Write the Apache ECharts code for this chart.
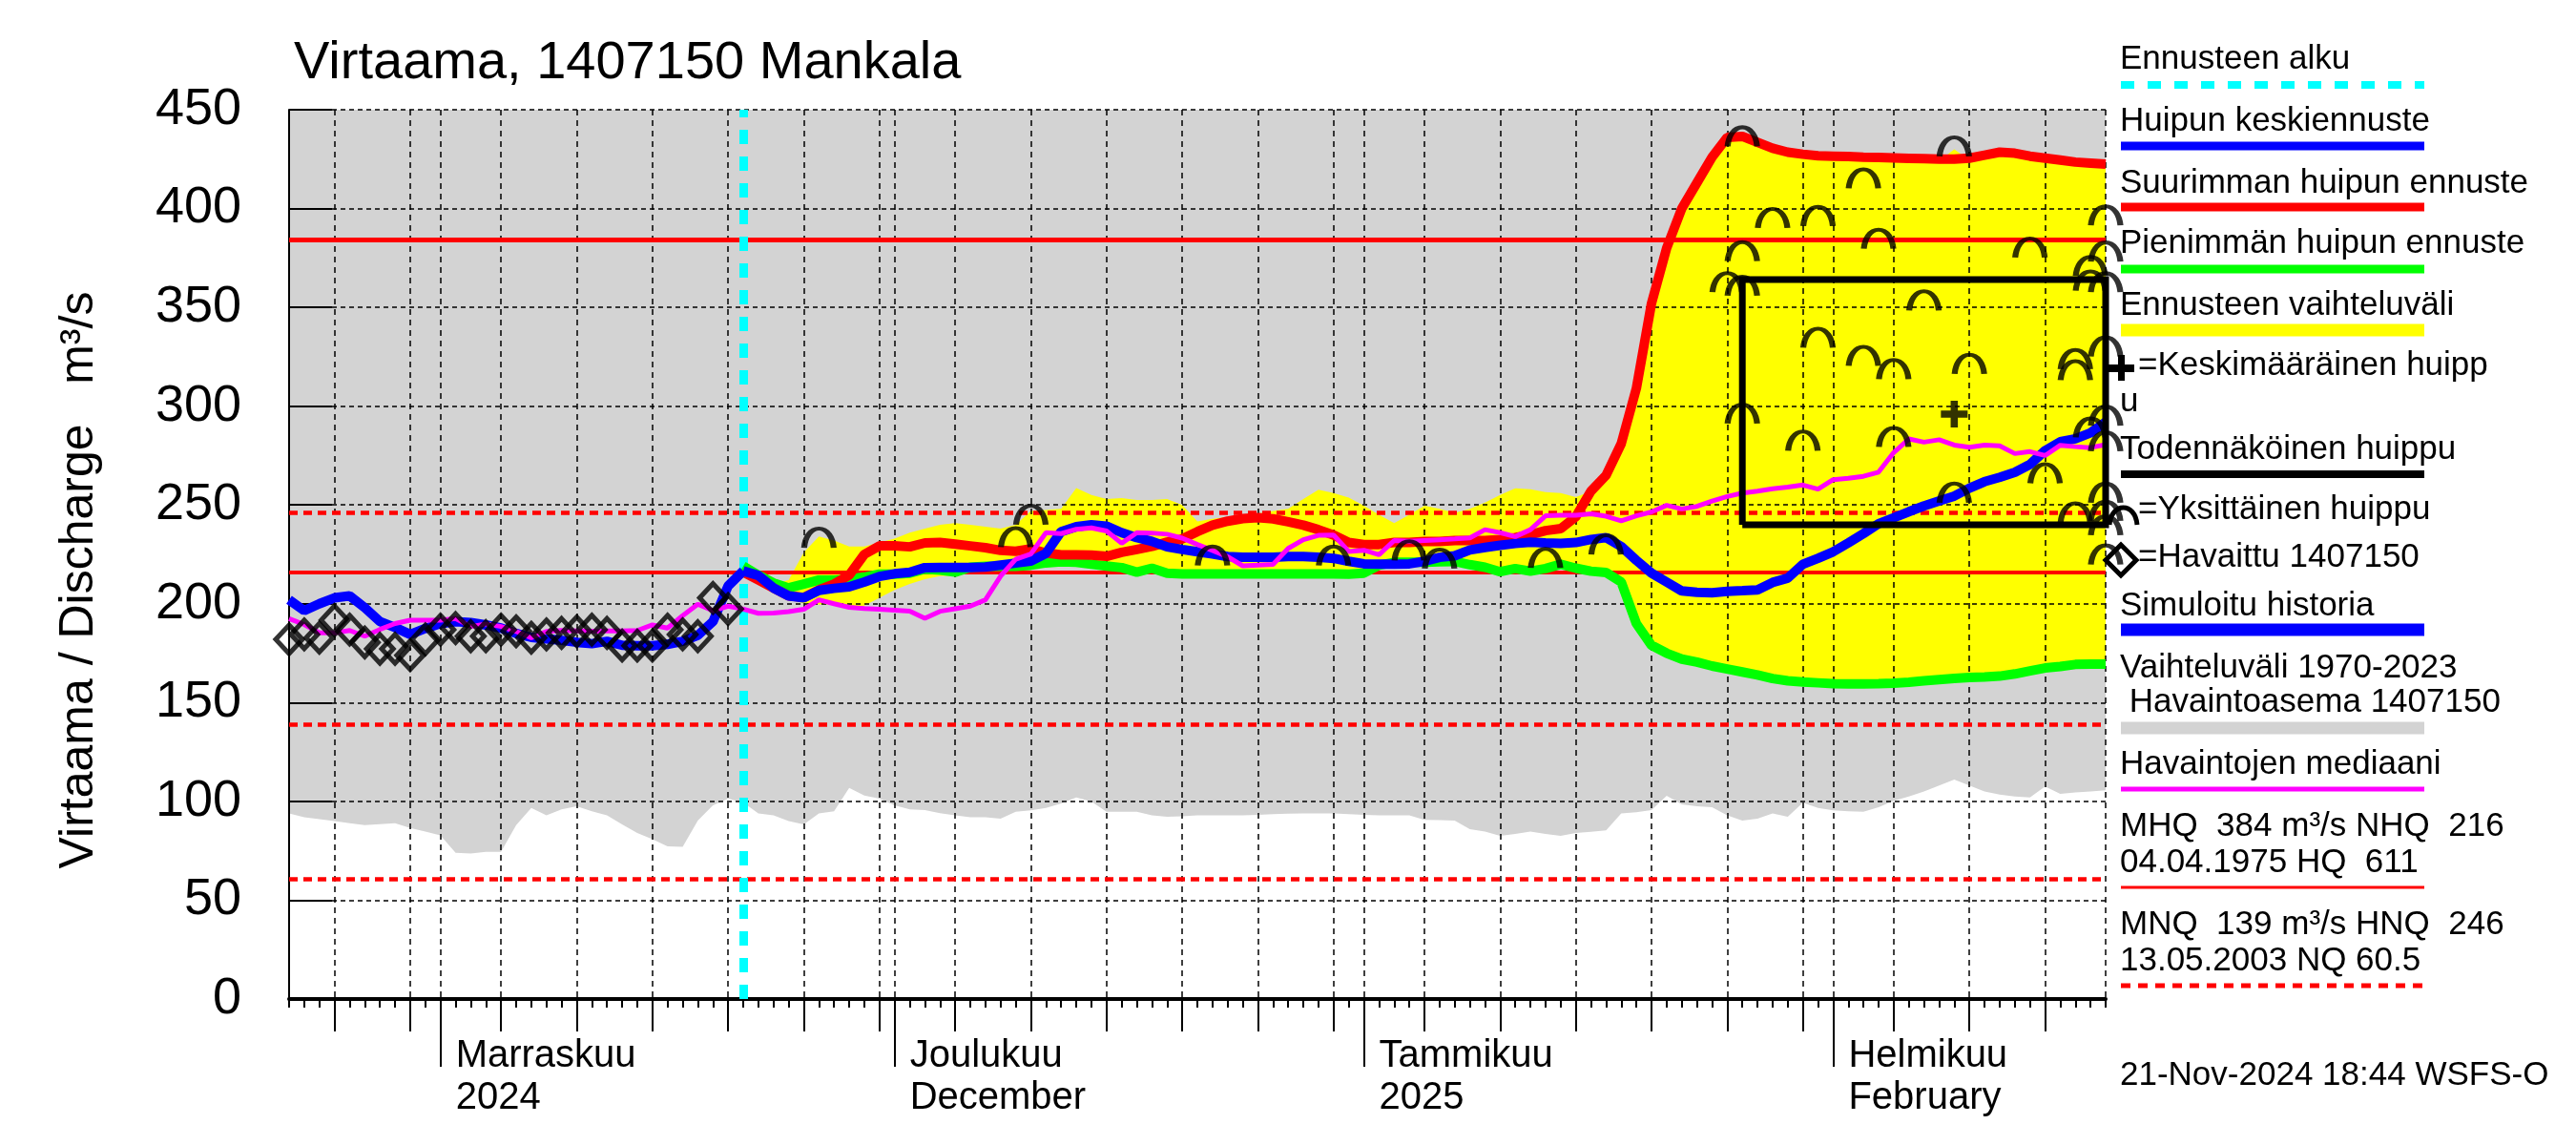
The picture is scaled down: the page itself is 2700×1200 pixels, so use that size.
<!DOCTYPE html>
<html><head><meta charset="utf-8">
<script src="https://cdn.jsdelivr.net/npm/echarts@6/dist/echarts.min.js"></script>
<style>html,body{margin:0;padding:0;background:#fff}#c{width:2700px;height:1200px}</style>
</head><body><div id="c"></div>
<script>
// ---------- data ----------
const START = '2024-10-22';
const N_DAYS = 121;                 // 22 Oct 2024 .. 19 Feb 2025
const FORECAST_START = '2024-11-21';

// reference values
const MHQ = 384, NHQ = 216, HNQ = 246, MNQ = 139, NQ = 60.5;

// observed discharge (from START)
const observed = [182, 184.5, 182.8, 191.7, 186.9, 180.4, 177.2, 177.2, 174, 182,
  186.9, 187.7, 183.6, 183.6, 186.9, 186.1, 182.8, 184.5, 185.3, 186.1,
  186.9, 185.3, 178.8, 178.8, 178.8, 186.9, 184.5, 183.6, 203, 197.3];

// simulated history (from START to FORECAST_START)
const simulated = [202, 196.5, 200, 203, 204, 198, 191, 188, 184.5, 187.5,
  190, 191, 190.5, 189.3, 187.7, 185, 183, 182.2, 181.5, 180.5,
  179.8, 181, 179, 178.8, 178.8, 179.5, 181, 184, 191, 209, 216.6];

// forecasts (from FORECAST_START)
const meanForecast = [216.6, 214.3, 208, 204, 203, 206.8, 207.8, 208.6, 211, 213.8,
  215.2, 215.9, 218.3, 218.4, 218.4, 218.4, 218.6, 219.6, 220.6, 221.6,
  225.5, 236.5, 239, 240, 239.3, 236, 233.5, 231.6, 228.8, 227.5,
  226.3, 225.2, 223.9, 223.6, 223.6, 223.6, 223.9, 223.9, 223.5, 223,
  221.5, 220.2, 220.1, 220.1, 220.2, 221.5, 223.5, 224.3, 227.2, 228.5,
  229.6, 230.5, 231.2, 230.8, 230.5, 231, 232.5, 233.5, 229, 222,
  215.5, 211, 206.5, 205.8, 205.6, 206.3, 206.6, 207, 210.8, 213,
  220, 223, 226.3, 230.8, 235.5, 240.5, 243.5, 246.6, 249.5, 252,
  254.5, 258.5, 261.8, 264, 266.5, 270.5, 277.5, 282, 283.5, 286.5, 292];

const maxForecast = [216, 212, 208, 204, 203.2, 207, 210, 214.5, 225, 229.3,
  229.3, 228.8, 230.8, 231, 230.2, 229.3, 228.4, 227, 226.6, 227.8,
  225.7, 224.8, 224.7, 224.6, 224, 226, 227.5, 229, 231.2, 232.8,
  236.5, 239.8, 241.8, 243.1, 243.6, 243, 241.5, 239.8, 237.5, 234.8,
  231, 230, 230, 231, 231, 231.5, 231.5, 232, 232, 232,
  232.5, 233.5, 235, 237, 238, 244, 257, 265, 281, 309,
  352, 380, 400, 413, 426, 436, 436.5, 433.5, 430.5, 428.5,
  427.5, 426.7, 426.5, 426.3, 426, 425.8, 425.6, 425.4, 425.2, 425,
  425, 425.5, 427, 428.5, 428, 426.5, 425.5, 424.5, 423.5, 423, 422.5];

const minForecast = [219, 214.5, 210.5, 208, 210, 212, 212, 212.5, 213.5, 215,
  215, 215.5, 217.5, 217, 216, 218.5, 219, 219, 219, 219.5,
  220.7, 221.2, 221, 220, 219.1, 218.3, 216, 218, 215.5, 215.1,
  215.1, 215.1, 215.1, 215.1, 215.1, 215.1, 215.1, 215.1, 215.1, 215.1,
  215, 215.5, 219.5, 221, 221, 221, 221.3, 221.4, 219.8, 218.5,
  216.2, 217.8, 216.5, 217.8, 220, 218, 216.5, 215.8, 211, 190,
  179, 175, 172, 170.5, 168.5, 167, 165.5, 164, 162.2, 161,
  160.4, 160, 159.6, 159.5, 159.5, 159.6, 159.8, 160.3, 161, 161.6,
  162.2, 162.7, 163, 163.4, 164.5, 166, 167.5, 168.3, 169.3, 169.5, 169.5];

// forecast range (from FORECAST_START)
const rangeLow = [219, 212, 207, 203, 200, 199.7, 199.7, 198.5, 199, 203,
  207, 210, 212.5, 214, 214.3, 218.5, 219, 219, 219, 219.5,
  220.7, 221.2, 221, 220, 219.1, 218.3, 216, 218, 215.5, 215.1,
  215.1, 215.1, 215.1, 215.1, 215.1, 215.1, 215.1, 215.1, 215.1, 215.1,
  215, 215.5, 219.5, 221, 221, 221, 221.3, 221.4, 219.8, 218.5,
  216.2, 217.8, 216.5, 217.8, 220, 218, 216.5, 215.8, 211, 190,
  179, 175, 172, 170.5, 168.5, 167, 165.5, 164, 162.2, 161,
  160.4, 160, 159.6, 159.5, 159.5, 159.6, 159.8, 160.3, 161, 161.6,
  162.2, 162.7, 163, 163.4, 164.5, 166, 167.5, 168.3, 169.3, 169.5, 169.5];

const rangeHigh = [221, 215, 210, 212, 226, 234, 232, 229, 229, 231,
  233, 236, 238, 240, 240.8, 240, 239, 238, 240, 247,
  247.5, 248, 258.5, 255, 253, 253.5, 252.5, 252.5, 253, 250,
  241.6, 243, 244, 245, 245.6, 247, 248, 253, 257.7, 256,
  253.7, 249.6, 245, 240.8, 245, 249.6, 248, 246, 248, 251.2,
  255, 258.4, 258, 256.5, 256, 254, 257, 265, 281, 309,
  352, 380, 400, 413, 426, 435, 435, 432, 429, 427,
  426, 425.5, 425, 425, 424.8, 424.6, 424.4, 424.2, 424, 424,
  430, 424.5, 426, 427.5, 427, 425.5, 424.5, 423.5, 422.5, 422, 421.5];

// observed median (from START)
const median = [192.5, 189.5, 185.3, 185.3, 186.5, 183.6, 187, 190, 191.7, 191.7,
  191.7, 192.5, 188.5, 189.8, 188.5, 186, 182.8, 186, 186.5, 186.3,
  186.1, 186.2, 186.3, 186.5, 189.3, 187.7, 194, 199.8, 196.5, 198.8,
  197.3, 195.2, 195.3, 196, 197.2, 202, 200, 198.2, 197.6, 197.2,
  196.8, 196.3, 192.6, 196.2, 197.5, 198.8, 202, 214, 222.5, 225.2,
  236, 235.5, 237.7, 238.4, 236.8, 230.6, 236, 235.8, 235.2, 233.2,
  230, 227, 223.8, 219.2, 219.6, 219.9, 228, 232.4, 234.6, 234.8,
  226.5, 227.1, 224.8, 232, 231.6, 232, 232.4, 232.8, 233.3, 237.5,
  236, 234, 237.5, 244.5, 244.8, 244.8, 245.5, 244.3, 242, 244.5,
  246.5, 249.8, 248, 249.3, 252, 254.3, 256, 257, 258.2, 259,
  260.1, 258, 262.8, 263.5, 264.5, 266.6, 276.5, 283.4, 281.8, 283,
  280.3, 279.2, 280.3, 279.9, 276, 277, 275, 280.2, 279.5, 279, 280.5];

// lower edge of the 1970-2023 range (from START); the upper edge is above the chart
const histLow = [93.9, 92, 91, 90, 89, 88, 88.5, 89, 86.5, 84.7,
  82.8, 74, 73.6, 74.5, 74.5, 88, 96.7, 93, 96, 97.5,
  95, 93, 88.4, 84, 80.9, 77.3, 77, 90.3, 98, 101.4,
  99.5, 93.9, 93, 90, 88.4, 93.9, 95, 106.8, 103, 101.4,
  98, 96, 95.6, 94, 93, 92, 92, 91.3, 94.8, 95.5,
  96.7, 99, 102, 100, 94.8, 94.8, 94.8, 93, 92.2, 92.5,
  93, 93, 93, 93, 93.2, 93.5, 93.8, 93.9, 93.9, 93.9,
  93.5, 93.2, 93, 93, 93, 90.7, 90.5, 90.3, 86, 84.7,
  82.6, 83.5, 84.7, 83.5, 82.6, 84, 84.6, 85.3, 93.9, 94.5,
  95.6, 102.9, 98.5, 97.5, 97, 93, 90.3, 91.3, 93.9, 92.2,
  99.3, 96.7, 95.5, 95, 94.8, 97, 100.3, 102.5, 105, 108,
  111, 108, 105, 103.5, 102.5, 102, 107.5, 103.8, 104.5, 105, 105.6];

// individual peaks [date, value]
const peaks = [
  ['2024-11-26', 233.2], ['2024-12-09', 233.5], ['2024-12-10', 244.8], ['2024-12-22', 224.2],
  ['2024-12-30', 224.2], ['2025-01-04', 226.8], ['2025-01-06', 222.6], ['2025-01-13', 223],
  ['2025-01-17', 229.8], ['2025-01-25', 362.5], ['2025-01-26', 436.3], ['2025-01-26', 378.2],
  ['2025-01-26', 360.7], ['2025-01-26', 296], ['2025-01-28', 395], ['2025-01-30', 282.3],
  ['2025-01-31', 396], ['2025-01-31', 334.4], ['2025-02-03', 415], ['2025-02-03', 325.2],
  ['2025-02-04', 384.5], ['2025-02-05', 318.5], ['2025-02-05', 284.2], ['2025-02-07', 353.3],
  ['2025-02-09', 431.2], ['2025-02-09', 256], ['2025-02-10', 321.2], ['2025-02-14', 380],
  ['2025-02-15', 265.8], ['2025-02-17', 323.6], ['2025-02-17', 318], ['2025-02-17', 246],
  ['2025-02-18', 370.7], ['2025-02-18', 363.3], ['2025-02-18', 289], ['2025-02-19', 396.3],
  ['2025-02-19', 378], ['2025-02-19', 362.5], ['2025-02-19', 330], ['2025-02-19', 295],
  ['2025-02-19', 282], ['2025-02-19', 256], ['2025-02-19', 246.8], ['2025-02-19', 239.5],
  ['2025-02-19', 224.7]];

const meanPeak = ['2025-02-09', 296];
const probableBox = { start: '2025-01-26', end: '2025-02-19', low: 240, high: 364 };

const monthLabels = {
  '2024-11-01': 'Marraskuu\n2024', '2024-12-01': 'Joulukuu\nDecember',
  '2025-01-01': 'Tammikuu\n2025', '2025-02-01': 'Helmikuu\nFebruary'};
const gridDays = [1, 5, 10, 15, 20, 25, 30];
const fiveDays = [5, 10, 15, 20, 25, 30];

// ---------- build ----------
const dates = [];
for (let i = 0; i < N_DAYS; i++) {
  dates.push(new Date(Date.UTC(2024, 9, 22 + i)).toISOString().slice(0, 10));
}
function pad(vals, start) {
  const k = dates.indexOf(start);
  return new Array(k).fill(null).concat(vals);
}
const bandWidth = rangeHigh.map((v, i) => +(v - rangeLow[i]).toFixed(2));
const dom = d => +d.slice(8, 10);

const SANS = "'Liberation Sans', Arial, Helvetica, sans-serif";
const ARC = 'path://M0,20 C1,9 6,0 14,0 C22,0 27,9 28,20';
const CROSS = 'path://M9.5,0 H16.5 V9.5 H26 V16.5 H16.5 V26 H9.5 V16.5 H0 V9.5 H9.5 Z';

const catAxis = (extra) => Object.assign({
  type: 'category', data: dates, boundaryGap: false, position: 'bottom', z: 3,
  axisLine: { show: false }, axisLabel: { show: false }, splitLine: { show: false }
}, extra);

// legend
const LX = 2222, L1 = 2223, L2 = 2541;
const g = [];
function T(s, x, base, size) {
  size = size || 35;
  g.push({ type: 'text', x: x, y: base - 0.35 * size, silent: true, z: 100,
    style: { text: s, fontFamily: SANS, fontSize: size, fill: '#000',
      align: 'left', verticalAlign: 'middle', textAlign: 'left', textVerticalAlign: 'middle' } });
}
function L(y, color, w, dash) {
  g.push({ type: 'line', silent: true, z: 100, shape: { x1: L1, y1: y, x2: L2, y2: y },
    style: { stroke: color, lineWidth: w, lineDash: dash || null } });
}
// title and y-axis name
g.push({ type: 'text', x: 308, y: 67, silent: true, z: 100,
  style: { text: 'Virtaama, 1407150 Mankala', fontFamily: SANS, fontSize: 56, fill: '#000',
    align: 'left', verticalAlign: 'middle', textAlign: 'left', textVerticalAlign: 'middle' } });
g.push({ type: 'text', x: 83, y: 608, rotation: Math.PI / 2, silent: true, z: 100,
  style: { text: 'Virtaama / Discharge   m³/s', fontFamily: SANS, fontSize: 50, fill: '#000',
    align: 'center', verticalAlign: 'middle', textAlign: 'center', textVerticalAlign: 'middle' } });

T('Ennusteen alku', LX, 75); L(89, '#00ffff', 8, [14, 14]);
T('Huipun keskiennuste', LX, 140); L(153, '#0000ff', 9);
T('Suurimman huipun ennuste', LX, 205); L(217, '#ff0000', 9);
T('Pienimmän huipun ennuste', LX, 268); L(282, '#00ff00', 9);
T('Ennusteen vaihteluväli', LX, 333); L(346, '#ffff00', 13);
g.push({ type: 'rect', silent: true, z: 100, shape: { x: 2210, y: 382, width: 27, height: 8 }, style: { fill: '#000' } });
g.push({ type: 'rect', silent: true, z: 100, shape: { x: 2220, y: 372, width: 7, height: 27 }, style: { fill: '#000' } });
T('=Keskimääräinen huipp', 2241, 396); T('u', LX, 434);
T('Todennäköinen huippu', LX, 484); L(497, '#000000', 8);
g.push({ type: 'bezierCurve', silent: true, z: 100,
  shape: { x1: 2211, y1: 550, cpx1: 2213, cpy1: 526, cpx2: 2238, cpy2: 526, x2: 2240, y2: 550 },
  style: { stroke: '#000', lineWidth: 5, fill: null } });
T('=Yksittäinen huippu', 2241, 547);
g.push({ type: 'polygon', silent: true, z: 100,
  shape: { points: [[2223, 571], [2239, 587], [2223, 603], [2207, 587]] },
  style: { stroke: '#000', lineWidth: 5, fill: null } });
T('=Havaittu 1407150', 2241, 597);
T('Simuloitu historia', LX, 648); L(660, '#0000ff', 13);
T('Vaihteluväli 1970-2023', LX, 713); T(' Havaintoasema 1407150', LX, 749); L(763, '#d3d3d3', 13);
T('Havaintojen mediaani', LX, 814); L(827, '#ff00ff', 5);
T('MHQ  384 m³/s NHQ  216', LX, 879); T('04.04.1975 HQ  611', LX, 917); L(930, '#ff0000', 3);
T('MNQ  139 m³/s HNQ  246', LX, 982); T('13.05.2003 NQ 60.5', LX, 1020); L(1033, '#ff0000', 5, [10, 8]);
T('21-Nov-2024 18:44 WSFS-O', LX, 1140);

const refLine = (v, dashed, w) => ({ yAxis: v, lineStyle: { color: '#ff0000', width: w, type: dashed ? [9, 6] : 'solid' } });

const option = {
  animation: false,
  backgroundColor: '#ffffff',
  grid: { left: 303, right: 493, top: 115, bottom: 153, show: true, backgroundColor: '#d3d3d3', borderWidth: 0 },
  xAxis: [
    catAxis({
      axisLine: { show: true, onZero: false, lineStyle: { color: '#000', width: 4 } },
      axisTick: { show: true, interval: 0, length: 9, lineStyle: { color: '#000', width: 2 } },
      splitLine: { show: true, interval: (i, v) => gridDays.indexOf(dom(v)) >= 0 || i === N_DAYS - 1,
        lineStyle: { color: '#000', width: 1.5, type: [6, 5] } }
    }),
    catAxis({
      axisTick: { show: true, interval: (i, v) => fiveDays.indexOf(dom(v)) >= 0, length: 34, lineStyle: { color: '#000', width: 2 } }
    }),
    catAxis({
      axisTick: { show: true, interval: (i, v) => !!monthLabels[v], length: 71, lineStyle: { color: '#000', width: 2 } },
      axisLabel: { show: true, interval: (i, v) => !!monthLabels[v], formatter: v => monthLabels[v] || '',
        align: 'left', padding: [0, 0, 0, 16], margin: 38, fontFamily: SANS, fontSize: 40, lineHeight: 44, color: '#000' }
    })
  ],
  yAxis: {
    type: 'value', min: 0, max: 450, interval: 50, z: 3,
    axisLine: { show: true, lineStyle: { color: '#000', width: 2 } },
    axisTick: { show: true, inside: true, length: 45, lineStyle: { color: '#000', width: 2 } },
    axisLabel: { fontFamily: SANS, fontSize: 54, color: '#000', margin: 50, padding: [0, 0, 17, 0] },
    splitLine: { show: true, lineStyle: { color: '#000', width: 1.5, type: [5, 4] } }
  },
  graphic: g,
  series: [
    { name: 'Vaihteluväli 1970-2023 (alaraja)', type: 'line', data: histLow, symbol: 'none', silent: true,
      lineStyle: { width: 0 }, areaStyle: { color: '#ffffff', opacity: 1 }, z: 1 },
    { name: 'range base', type: 'line', stack: 'band', data: pad(rangeLow, FORECAST_START), symbol: 'none', silent: true,
      lineStyle: { width: 0 }, z: 2 },
    { name: 'Ennusteen vaihteluväli', type: 'line', stack: 'band', data: pad(bandWidth, FORECAST_START), symbol: 'none', silent: true,
      lineStyle: { width: 0 }, areaStyle: { color: '#ffff00', opacity: 1 }, z: 2 },
    { name: 'refs', type: 'line', data: [], z: 4, silent: true,
      markLine: { silent: true, symbol: ['none', 'none'], label: { show: false }, animation: false,
        data: [refLine(MHQ, false, 5), refLine(NHQ, false, 4), refLine(HNQ, true, 4.5), refLine(MNQ, true, 4.5), refLine(NQ, true, 4.5)] } },
    { name: 'Pienimmän huipun ennuste', type: 'line', data: pad(minForecast, FORECAST_START), symbol: 'none',
      lineStyle: { color: '#00ff00', width: 10 }, z: 5 },
    { name: 'Suurimman huipun ennuste', type: 'line', data: pad(maxForecast, FORECAST_START), symbol: 'none',
      lineStyle: { color: '#ff0000', width: 10 }, z: 6 },
    { name: 'Simuloitu historia', type: 'line', data: simulated, symbol: 'none',
      lineStyle: { color: '#0000ff', width: 10 }, z: 7 },
    { name: 'Huipun keskiennuste', type: 'line', data: pad(meanForecast, FORECAST_START), symbol: 'none',
      lineStyle: { color: '#0000ff', width: 10 }, z: 7 },
    { name: 'Havaintojen mediaani', type: 'line', data: median, symbol: 'none',
      lineStyle: { color: '#ff00ff', width: 5 }, z: 8 },
    { name: 'Todennäköinen huippu', type: 'line', symbol: 'none', clip: false, z: 9,
      data: [[probableBox.start, probableBox.low], [probableBox.start, probableBox.high],
             [probableBox.end, probableBox.high], [probableBox.end, probableBox.low],
             [probableBox.start, probableBox.low]],
      lineStyle: { color: '#000', width: 7, join: 'miter' } },
    { name: 'Yksittäinen huippu', type: 'scatter', data: peaks, symbol: ARC, symbolSize: [31, 20], clip: false, z: 10,
      itemStyle: { color: 'rgba(0,0,0,0)', borderColor: '#000', borderWidth: 5 } },
    { name: 'Keskimääräinen huippu', type: 'scatter', data: [meanPeak], symbol: CROSS, symbolSize: [28, 28], z: 10,
      itemStyle: { color: '#000' } },
    { name: 'Havaittu 1407150', type: 'scatter', data: observed.map((v, i) => [dates[i], v]), symbol: 'diamond',
      symbolSize: [28, 30], z: 11, clip: false, itemStyle: { color: 'rgba(0,0,0,0)', borderColor: '#000', borderWidth: 5 } },
    { name: 'Ennusteen alku', type: 'line', data: [], z: 12, silent: true,
      markLine: { silent: true, symbol: ['none', 'none'], label: { show: false }, animation: false,
        lineStyle: { color: '#00ffff', width: 9, type: [15, 13] }, data: [{ xAxis: FORECAST_START }] } }
  ]
};
const chart = echarts.init(document.getElementById('c'), null, { renderer: 'canvas', width: 2700, height: 1200 });
chart.setOption(option);
</script></body></html>
